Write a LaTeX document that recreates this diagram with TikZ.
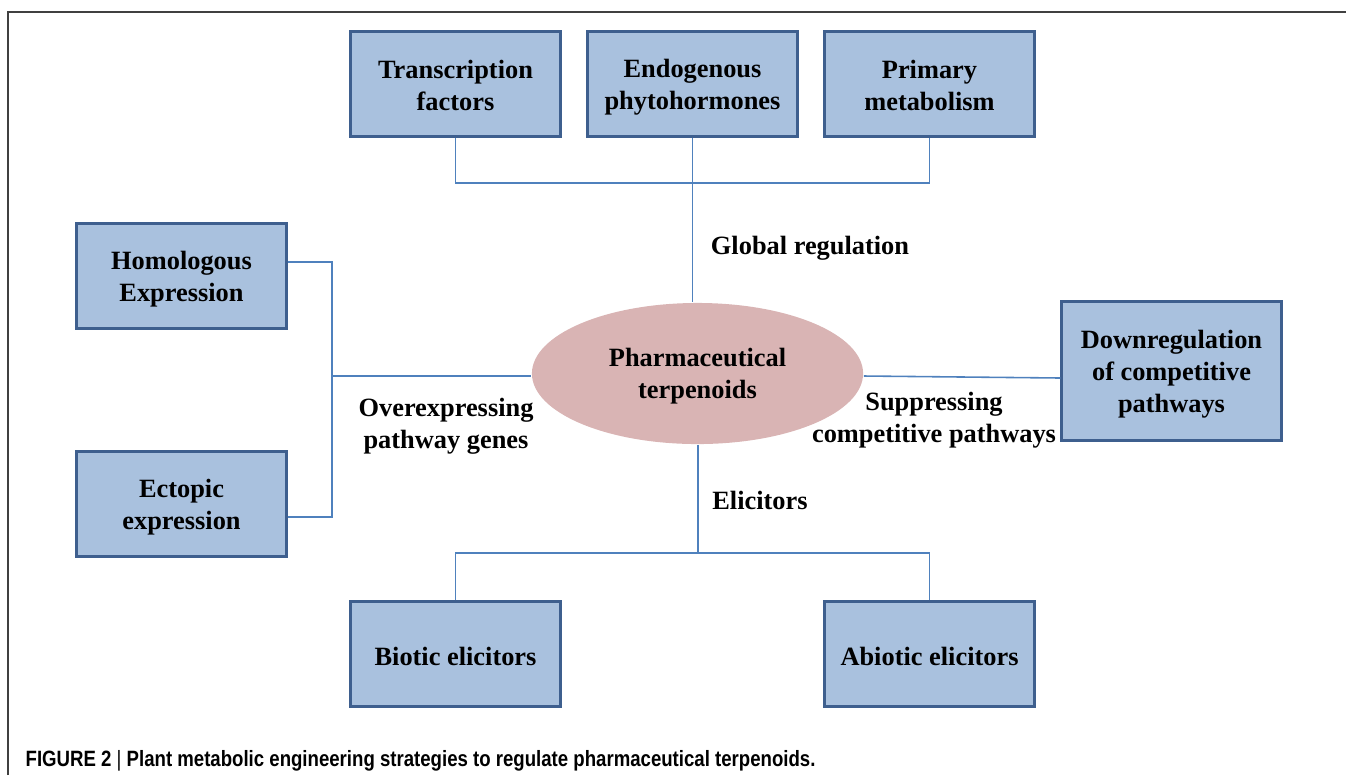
\documentclass[tikz,border=0pt]{standalone}
\usepackage{fontspec}
\usetikzlibrary{shapes.geometric}
\setmainfont{Liberation Serif}
\newfontfamily\capfont[FakeStretch=0.84]{Liberation Sans}
\definecolor{boxfill}{HTML}{A9C1DE}
\definecolor{boxedge}{HTML}{3E5F8E}
\definecolor{linkblue}{HTML}{4F81BD}
\definecolor{ovalfill}{HTML}{D9B4B4}
% fixed-size struts so every text block sits at the same height in its shape
\newcommand\tstrut{\rule[-0.8pt]{0pt}{8.3pt}}
\newcommand\fl{\rule{0pt}{6.9pt}}% first line of a multi-line text
\begin{document}
\begin{tikzpicture}[x=0.01cm,y=-0.01cm,
  font=\fontsize{7.5pt}{9.1pt}\selectfont\bfseries,
  struts/.style={execute at begin node=\tstrut, execute at end node=\tstrut},
  stratbox/.style={draw=boxedge, line width=0.85pt, fill=boxfill, align=center,
    minimum width=2.09cm, minimum height=1.04cm, inner sep=0pt, struts},
  link/.style={draw=linkblue, line width=0.45pt},
  lbl/.style={align=center, inner sep=0pt, struts}]
\useasboundingbox (0,0) rectangle (1346,775);
% outer frame
\draw[line width=0.5pt, black!75] (8,775) -- (8,12) -- (1346,12);

% central node
\node[ellipse, fill=ovalfill, minimum width=3.31cm, minimum height=1.41cm, inner sep=0pt, align=center, struts]
  (core) at (697.5,373.5) {\fl Pharmaceutical\\terpenoids};

% strategy boxes
\node[stratbox] (tf)  at (455.5,84) {\fl Transcription\\factors};
\node[stratbox] (ph)  at (692.5,84) {\fl Endogenous\\phytohormones};
\node[stratbox] (pm)  at (929.5,84) {\fl Primary\\metabolism};
\node[stratbox] (ho)  at (181.5,276) {\fl Homologous\\Expression};
\node[stratbox] (ec)  at (181.5,504) {\fl Ectopic\\expression};
\node[stratbox, minimum width=2.19cm, minimum height=1.38cm] (dr) at (1171.5,371) {\fl Downregulation\\of competitive\\pathways};
\node[stratbox] (bi)  at (455.5,654) {Biotic elicitors};
\node[stratbox] (ab)  at (929.5,654) {Abiotic elicitors};

% connector junctions
\coordinate (topbar) at (692.5,183);
\coordinate (leftbar) at (332,376);
\coordinate (botbar) at (698,553);

% global regulation branch
\draw[link] (tf.south) -- (tf.south |- topbar) -- (pm.south |- topbar) -- (pm.south);
\draw[link] (ph.south) -- (core.north -| ph.south);
% overexpression branch
\draw[link] (ho.east |- 0,262) -- (332,262) -- (332,517) -- (ec.east |- 0,517);
\draw[link] (leftbar) -- (core.west |- leftbar);
% suppression branch
\draw[link] (core.east |- 0,376) -- (dr.west |- 0,378);
% elicitor branch
\draw[link] (core.south -| botbar) -- (botbar);
\draw[link] (bi.north) -- (bi.north |- botbar) -- (ab.north |- botbar) -- (ab.north);

% branch labels
\node[lbl] (lg) at (810,244) {Global regulation};
\node[lbl] (lo) at (446,423) {\fl Overexpressing\\pathway genes};
\node[lbl] (ls) at (934,417) {\fl Suppressing\\competitive pathways};
\node[lbl] (le) at (760,498) {Elicitors};

% caption
\node[anchor=west, inner sep=0pt, font=\capfont\fontsize{6.3pt}{7pt}\selectfont\bfseries]
  (cap) at (25,761) {FIGURE 2 {\fontseries{m}\selectfont|} Plant metabolic engineering strategies to regulate pharmaceutical terpenoids.};
\end{tikzpicture}
\end{document}
